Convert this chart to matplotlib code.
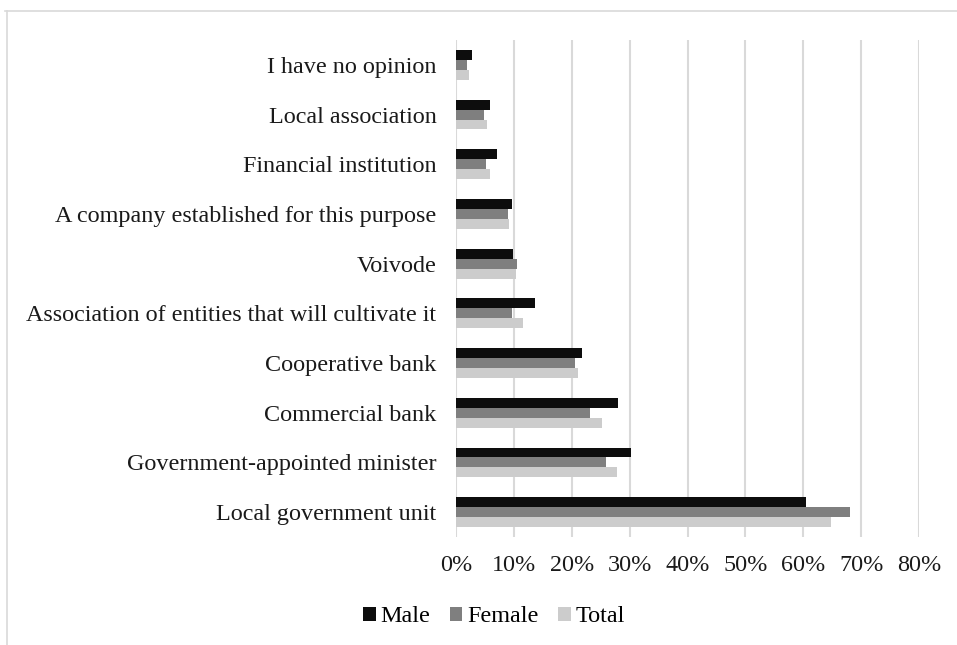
import matplotlib.pyplot as plt
from matplotlib.lines import Line2D
from matplotlib.ticker import PercentFormatter
import numpy as np

plt.rcParams['font.family'] = ['Liberation Serif', 'DejaVu Serif']

# categories from bottom to top
categories = [
    "Local government unit",
    "Government-appointed minister",
    "Commercial bank",
    "Cooperative bank",
    "Association of entities that will cultivate it",
    "Voivode",
    "A company established for this purpose",
    "Financial institution",
    "Local association",
    "I have no opinion",
]
male = [60.5, 30.2, 28.0, 21.7, 13.6, 9.9, 9.6, 7.0, 5.9, 2.8]
female = [68.1, 26.0, 23.2, 20.6, 9.7, 10.6, 8.9, 5.1, 4.8, 1.9]
total = [64.8, 27.9, 25.3, 21.1, 11.5, 10.3, 9.2, 5.9, 5.3, 2.3]

W, H = 957, 645
FS = 17.4
fig = plt.figure(figsize=(W / 100, H / 100), dpi=100)
ax = fig.add_axes([456 / W, 1 - 537 / H, (919 - 456) / W, (537 - 40) / H])

y = np.arange(len(categories))
bh = 0.2
ax.barh(y + bh, male, height=bh, color='#0d0d0d', label='Male', zorder=3)
ax.barh(y, female, height=bh, color='#7f7f7f', label='Female', zorder=3)
ax.barh(y - bh, total, height=bh, color='#cccccc', label='Total', zorder=3)

ax.set_xlim(0, 80)
ax.set_ylim(-0.5, len(categories) - 0.5)
ax.set_xticks(np.arange(0, 81, 10))
ax.xaxis.set_major_formatter(PercentFormatter(decimals=0))
ax.set_yticks(y)
ax.set_yticklabels(categories)
ax.tick_params(axis='both', length=0, labelsize=FS, colors='#1a1a1a')
ax.tick_params(axis='x', pad=13)
ax.tick_params(axis='y', pad=14)
ax.grid(axis='x', color='#d9d9d9', linewidth=1.5, zorder=0)
for s in ax.spines.values():
    s.set_visible(False)

fig.legend(loc='center', bbox_to_anchor=(494 / W, 1 - 617 / H), ncol=3,
           frameon=False, fontsize=FS, handlelength=0.52, handleheight=0.52,
           handletextpad=0.2, columnspacing=0.8)

# outer chart frame
fig.add_artist(Line2D([5 / W, 1], [1 - 10.5 / H] * 2, color='#d9d9d9', lw=1.2,
                      transform=fig.transFigure))
fig.add_artist(Line2D([7.5 / W] * 2, [0, 1 - 10.5 / H], color='#d9d9d9', lw=1.2,
                      transform=fig.transFigure))

fig.savefig('out.png', dpi=100)
